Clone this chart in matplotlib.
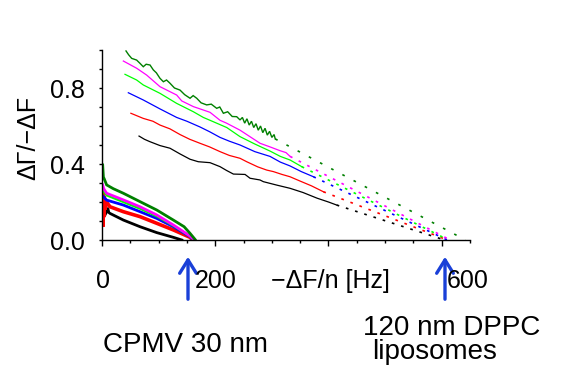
import matplotlib
matplotlib.use("Agg")
import matplotlib.pyplot as plt
from matplotlib.ticker import MultipleLocator, FixedLocator

plt.rcParams['font.family'] = ['Liberation Sans', 'DejaVu Sans']

W, H, DPI = 576, 384, 100

# ---------------- data ----------------
colors = {'dgreen': '#008000', 'magenta': '#ff00ff', 'lime': '#00ff00',
          'blue': '#0000ff', 'red': '#ff0000', 'black': '#000000'}

# liposome series (solid part)
lip_dgreen_x = [42.4, 47, 52.4, 61.2, 67, 72.9, 78, 84.8, 90.7, 96, 102.4, 108.4, 114, 120.1, 128,
                137.8, 146, 155.5, 161, 167.3, 175, 184.9, 193, 202.6, 208, 214.4, 222, 230, 237.9,
                243.8, 248, 252, 256, 260, 264, 268, 272, 276, 280, 284, 288, 292, 296, 300, 304, 306]
lip_dgreen_y = [0.995, 0.975, 0.956, 0.947, 0.93, 0.912, 0.925, 0.921, 0.895, 0.88, 0.851, 0.833, 0.842,
                0.825, 0.80, 0.789, 0.765, 0.746, 0.76, 0.746, 0.722, 0.711, 0.715, 0.693, 0.70, 0.667,
                0.675, 0.65, 0.649, 0.632, 0.645, 0.615, 0.638, 0.605, 0.625, 0.592, 0.612, 0.578, 0.600,
                0.565, 0.588, 0.552, 0.572, 0.540, 0.555, 0.532]
lip_magenta_x = [37.7, 61.2, 78.9, 102.4, 131.9, 140.8, 161.4, 190.8, 208.5, 220, 243.8, 279.2, 296.8, 314.5, 325, 332.2]
lip_magenta_y = [0.942, 0.904, 0.868, 0.807, 0.763, 0.732, 0.702, 0.672, 0.63, 0.615, 0.578, 0.509, 0.49, 0.47, 0.46, 0.44]
lip_lime_x = [40.6, 61.2, 72.9, 102.4, 131.9, 161.4, 179, 190.8, 220.3, 243.8, 270, 296.8, 315, 332.2, 352.8]
lip_lime_y = [0.872, 0.842, 0.816, 0.772, 0.719, 0.675, 0.645, 0.63, 0.592, 0.544, 0.505, 0.468, 0.44, 0.421, 0.386]
lip_blue_x = [46.5, 72.9, 102.4, 131.9, 150, 173, 190, 208.5, 225, 243.8, 270, 296.8, 315, 332, 352, 373.4]
lip_blue_y = [0.775, 0.737, 0.69, 0.645, 0.625, 0.595, 0.57, 0.54, 0.52, 0.50, 0.465, 0.44, 0.41, 0.39, 0.36, 0.333]
lip_red_x = [51, 72.9, 90, 102.4, 120, 137.8, 155, 173.1, 190, 208.5, 225, 243.8, 255.6, 275, 291, 302.7,
             318, 332, 350, 370, 391]
lip_red_y = [0.667, 0.640, 0.625, 0.605, 0.585, 0.555, 0.53, 0.509, 0.49, 0.465, 0.445, 0.43, 0.412, 0.385,
             0.368, 0.360, 0.345, 0.333, 0.31, 0.285, 0.254]
lip_black_x = [65.4, 75, 84.2, 102.4, 120.1, 137.8, 155.5, 170, 190.8, 208.5, 220, 232.1, 243.8, 252.7,
               261.5, 279, 285, 308.6, 332.2, 355, 380, 400, 414.5]
lip_black_y = [0.547, 0.53, 0.518, 0.497, 0.483, 0.453, 0.425, 0.412, 0.407, 0.386, 0.366, 0.347, 0.346,
               0.345, 0.325, 0.316, 0.307, 0.289, 0.272, 0.25, 0.22, 0.20, 0.184]
# x-intercepts of the dotted extrapolations
lip_intercepts = {'dgreen': 642, 'magenta': 615, 'lime': 612, 'blue': 610, 'red': 610, 'black': 605}

# CPMV series
cp_dgreen_x = [1.2, 2.5, 3.5, 8.2, 20, 37.7, 67.1, 96.6, 126, 145, 155.5, 164.4]
cp_dgreen_y = [0.395, 0.33, 0.325, 0.29, 0.27, 0.246, 0.202, 0.158, 0.105, 0.07, 0.035, 0.003]
cp_magenta_x = [1.2, 3, 8.2, 37.7, 67.1, 96.6, 126, 155.5, 163]
cp_magenta_y = [0.29, 0.27, 0.246, 0.211, 0.175, 0.132, 0.079, 0.021, 0.0]
cp_lime_x = [1.5, 8.2, 37.7, 67.1, 96.6, 126, 155.5, 162]
cp_lime_y = [0.26, 0.235, 0.2, 0.165, 0.125, 0.075, 0.02, 0.0]
cp_blue_x = [2.4, 8.2, 37.7, 67.1, 96.6, 126, 155.5, 161.3]
cp_blue_y = [0.228, 0.21, 0.184, 0.149, 0.114, 0.07, 0.018, 0.0]
cp_red_x = [1.0, 1.5, 2.2, 3, 4, 5, 8, 14.1, 37.7, 67.1, 96.6, 126, 155.5, 160]
cp_red_y = [0.22, 0.07, 0.27, 0.12, 0.23, 0.16, 0.2, 0.175, 0.149, 0.123, 0.088, 0.053, 0.014, 0.0]
cp_black_x = [5, 8.2, 10, 12, 14.1, 37.7, 67.1, 96.6, 126, 141]
cp_black_y = [0.13, 0.149, 0.17, 0.145, 0.14, 0.105, 0.07, 0.039, 0.014, 0.0]

xtick_labels = ['0', '200', '600']
ytick_values = [0.0, 0.4, 0.8]

# ---------------- figure ----------------
fig = plt.figure(figsize=(W / DPI, H / DPI), dpi=DPI)
fig.patch.set_facecolor('white')
ax = fig.add_axes([102 / W, (H - 240) / H, 368 / W, 190 / H])
ax.set_xlim(0, 650)
ax.set_ylim(0, 1.0)

lip = {
    'black': (lip_black_x, lip_black_y),
    'red': (lip_red_x, lip_red_y),
    'blue': (lip_blue_x, lip_blue_y),
    'lime': (lip_lime_x, lip_lime_y),
    'magenta': (lip_magenta_x, lip_magenta_y),
    'dgreen': (lip_dgreen_x, lip_dgreen_y),
}
for key, (xs, ys) in lip.items():
    c = colors[key]
    ax.plot(xs, ys, color=c, lw=0.9 if key != 'dgreen' else 1.0, solid_joinstyle='miter')
    dash = (0, (1.6, 6)) if key == 'dgreen' else (0, (1.6, 4.2))
    ax.plot([xs[-1], lip_intercepts[key]], [ys[-1], 0.0], color=c, lw=1.2, linestyle=dash)

cp = [
    ('black', cp_black_x, cp_black_y, 2.0),
    ('red', cp_red_x, cp_red_y, 2.6),
    ('blue', cp_blue_x, cp_blue_y, 2.0),
    ('lime', cp_lime_x, cp_lime_y, 1.6),
    ('magenta', cp_magenta_x, cp_magenta_y, 2.0),
    ('dgreen', cp_dgreen_x, cp_dgreen_y, 2.0),
]
for key, xs, ys, lw in cp:
    ax.plot(xs, ys, color=colors[key], lw=lw, solid_joinstyle='miter')

# axes styling
for s in ['top', 'right']:
    ax.spines[s].set_visible(False)
for s in ['left', 'bottom']:
    ax.spines[s].set_linewidth(1.0)
ax.xaxis.set_major_locator(FixedLocator([0, 200, 400, 600]))
ax.xaxis.set_minor_locator(MultipleLocator(50))
ax.set_xticklabels([])
ax.tick_params(axis='x', which='major', length=4, width=1.0, direction='out')
ax.tick_params(axis='x', which='minor', length=1.8, width=1.0, direction='out')
ax.yaxis.set_major_locator(FixedLocator(ytick_values))
ax.yaxis.set_minor_locator(MultipleLocator(0.1))
ax.set_yticklabels([f'{v:.1f}' for v in ytick_values], fontsize=18)
ax.tick_params(axis='y', which='both', length=2.4, width=1.0, direction='out', pad=10)

def ftext(px, py, s, **kw):
    fig.text(px / W, 1 - py / H, s, **kw)

# x tick labels and x label (placed inline)
ftext(103, 288, xtick_labels[0], fontsize=18, ha='center', va='baseline')
ftext(216, 288, xtick_labels[1], fontsize=18, ha='center', va='baseline')
ftext(468, 288, xtick_labels[2], fontsize=18, ha='center', va='baseline')
ftext(330, 288, '\u2212\u0394F/n [Hz]', fontsize=18, ha='center', va='baseline')

# y label
ftext(28, 138, '\u0394\u0393/\u2212\u0394F', fontsize=18, rotation=90, ha='center', va='center')

# annotations
ftext(103, 352, 'CPMV 30 nm', fontsize=20, ha='left', va='baseline')
ftext(363, 335, '120 nm DPPC', fontsize=20, ha='left', va='baseline')
ftext(372, 359, 'liposomes', fontsize=20, ha='left', va='baseline')

arrow_color = '#1a40d8'
for ax_px in (188, 445):
    fig.add_artist(matplotlib.patches.FancyArrowPatch(
        (ax_px / W, 1 - 302 / H), (ax_px / W, 1 - 254 / H),
        transform=fig.transFigure, arrowstyle='->,head_length=0.8,head_width=0.5',
        mutation_scale=12, color=arrow_color, lw=2.4))

fig.savefig('out.png', dpi=DPI, facecolor='white')
